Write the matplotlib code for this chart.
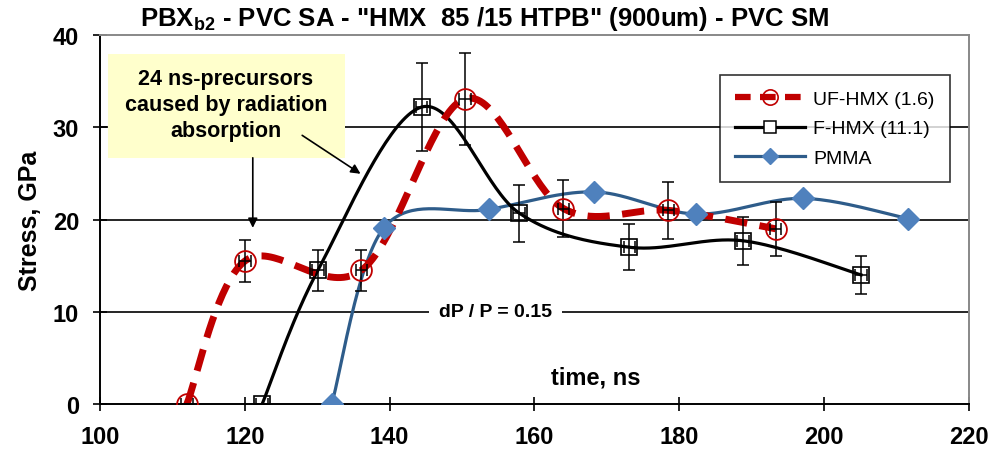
import numpy as np
import matplotlib
matplotlib.use("Agg")
import matplotlib.pyplot as plt
from matplotlib.patches import Rectangle

# ---- data ----
uf_t = [112.0, 120.0, 136.1, 150.4, 164.0, 178.5, 193.3]
uf_p = [0.0, 15.5, 14.5, 33.1, 21.2, 21.0, 19.0]
uf_err = [0.0, 2.3, 2.2, 5.0, 3.1, 3.1, 2.9]

f_t = [122.4, 130.1, 144.4, 157.9, 173.1, 188.8, 205.1]
f_p = [0.0, 14.5, 32.2, 20.7, 17.0, 17.7, 14.0]
f_err = [0.0, 2.2, 4.8, 3.1, 2.5, 2.6, 2.1]

pm_t = [132.0, 139.2, 153.7, 168.2, 182.3, 197.1, 211.6]
pm_p = [0.0, 19.1, 21.1, 23.0, 20.6, 22.3, 20.1]

t_err = 0.8

plt.rcParams["font.family"] = ["Liberation Sans", "DejaVu Sans"]

fig = plt.figure(figsize=(9.94, 4.52), dpi=100)
ax = fig.add_axes([0.1006, 0.104, 0.8742, 0.816])
ax.set_xlim(100, 220)
ax.set_ylim(0, 40)


def smooth(ax, xs, ys, n=40):
    # Excel-like smoothed line (Catmull-Rom in display space)
    pts = ax.transData.transform(np.column_stack([xs, ys]))
    p = np.vstack([pts[0], pts, pts[-1]])
    out = []
    s = np.linspace(0, 1, n)[:, None]
    for i in range(1, len(p) - 2):
        p0, p1, p2, p3 = p[i - 1], p[i], p[i + 1], p[i + 2]
        c1 = p1 + (p2 - p0) / 6
        c2 = p2 - (p3 - p1) / 6
        seg = ((1 - s) ** 3) * p1 + 3 * ((1 - s) ** 2) * s * c1 + 3 * (1 - s) * s ** 2 * c2 + s ** 3 * p2
        out.append(seg)
    out = np.vstack(out)
    d = ax.transData.inverted().transform(out)
    return d[:, 0], d[:, 1]


for yv in [10, 20, 30]:
    ax.axhline(yv, color="black", lw=1.2, zorder=1)

# PMMA
sx, sy = smooth(ax, pm_t, pm_p)
ax.plot(sx, sy, color="#2E5C8A", lw=2.3, zorder=3)
ax.plot(pm_t, pm_p, ls="none", marker="D", ms=11, color="#4F81BD", zorder=6)

# F-HMX
sx, sy = smooth(ax, f_t, f_p)
ax.plot(sx, sy, color="black", lw=2.3, zorder=3)
ax.errorbar(f_t, f_p, yerr=f_err, xerr=t_err, fmt="none", ecolor="black",
            elinewidth=1.1, capsize=4, capthick=1.1, zorder=5)
ax.plot(f_t, f_p, ls="none", marker="s", ms=12, mfc="none", mec="black", mew=1.2, zorder=6)

# UF-HMX
sx, sy = smooth(ax, uf_t, uf_p)
ax.plot(sx, sy, color="#C00000", lw=5, ls=(0, (3.2, 1.8)), zorder=4)
ax.errorbar(uf_t, uf_p, yerr=uf_err, xerr=t_err, fmt="none", ecolor="black",
            elinewidth=1.1, capsize=4, capthick=1.1, zorder=5)
ax.plot(uf_t, uf_p, ls="none", marker="o", ms=15, mfc="none", mec="#C00000", mew=1.3, zorder=6)

# legend proxies
h1, = ax.plot([], [], color="#C00000", lw=4.5, ls=(0, (2.5, 1.5)), marker="o", ms=11,
              mfc="none", mec="#C00000", mew=1.2, label="UF-HMX (1.6)")
h2, = ax.plot([], [], color="black", lw=2.3, marker="s", ms=8, mfc="white", mec="black",
              mew=1.1, label="F-HMX (11.1)")
h3, = ax.plot([], [], color="#2E5C8A", lw=2.3, marker="D", ms=8, mfc="#4F81BD",
              mec="#4F81BD", label="PMMA")
leg = ax.legend(handles=[h1, h2, h3], loc="upper right", bbox_to_anchor=(0.978, 0.892),
                fontsize=14, frameon=True, fancybox=False, edgecolor="black",
                handlelength=3.6, borderpad=0.8, labelspacing=0.6, handletextpad=0.4,
                borderaxespad=0)
leg.get_frame().set_linewidth(1.2)
leg.set_zorder(10)

# annotation box
ax.add_patch(Rectangle((101.1, 26.7), 32.7, 11.3, facecolor="#FFFFCC", edgecolor="none", zorder=7))
ax.text(117.4, 32.5, "24 ns-precursors\ncaused by radiation\nabsorption", ha="center", va="center",
        fontsize=15.5, fontweight="bold", linespacing=1.3, zorder=8)
ax.annotate("", xy=(121.1, 18.8), xytext=(121.1, 27.0),
            arrowprops=dict(arrowstyle="-|>", color="black", lw=1.2, mutation_scale=14), zorder=8)
ax.annotate("", xy=(136.3, 24.8), xytext=(127.6, 29.3),
            arrowprops=dict(arrowstyle="-|>", color="black", lw=1.2, mutation_scale=14), zorder=8)

ax.text(154.6, 10, "dP / P = 0.15", ha="center", va="center", fontsize=14, fontweight="bold",
        bbox=dict(facecolor="white", edgecolor="none", pad=7), zorder=7)
ax.text(168.4, 2.9, "time, ns", ha="center", va="center", fontsize=17, fontweight="bold", zorder=7)

ax.set_ylabel("Stress, GPa", fontsize=18, fontweight="bold", labelpad=8)
fig.suptitle('PBX$_{\\mathregular{b2}}$ - PVC SA - "HMX  85 /15 HTPB" (900um) - PVC SM',
             x=0.488, y=0.99, fontsize=18.5, fontweight="bold")

ax.set_xticks(np.arange(100, 221, 20))
ax.set_yticks(np.arange(0, 41, 10))
ax.tick_params(axis="both", direction="inout", length=10, width=1.2, labelsize=17)
ax.tick_params(axis="x", pad=10)
ax.tick_params(axis="y", pad=10)
for lab in ax.get_xticklabels() + ax.get_yticklabels():
    lab.set_fontweight("bold")

for s in ["left", "bottom"]:
    ax.spines[s].set_linewidth(1.4)
for s in ["top", "right"]:
    ax.spines[s].set_color("#888888")
    ax.spines[s].set_linewidth(1.4)

fig.savefig("out.png", dpi=100)
